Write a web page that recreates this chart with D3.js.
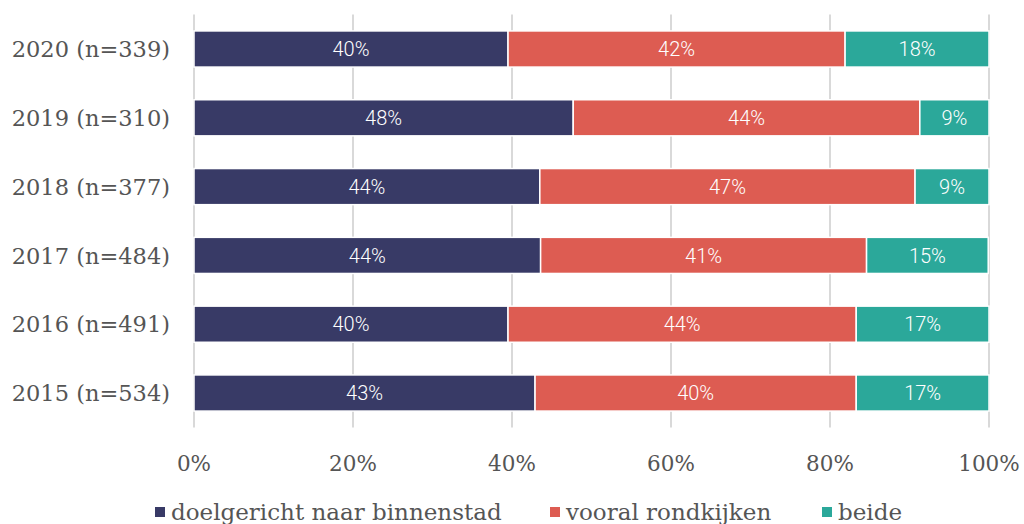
<!DOCTYPE html>
<html>
<head>
<meta charset="utf-8">
<script src="https://cdn.jsdelivr.net/npm/d3@7"></script>
<style>
  body { margin: 0; background: #fff; }
  svg text { font-family: "DejaVu Serif", serif; }
</style>
</head>
<body>
<div id="chart"></div>
<script>
// data
var years = ["2020 (n=339)", "2019 (n=310)", "2018 (n=377)", "2017 (n=484)", "2016 (n=491)", "2015 (n=534)"];
var doelgericht = [39.5, 47.7, 43.5, 43.6, 39.5, 42.9];
var rondkijken = [42.4, 43.6, 47.2, 41.0, 43.8, 40.4];
var beide = [18.1, 8.7, 9.3, 15.3, 16.7, 16.7];
var labelsDoel = ["40%", "48%", "44%", "44%", "40%", "43%"];
var labelsRond = ["42%", "44%", "47%", "41%", "44%", "40%"];
var labelsBeide = ["18%", "9%", "9%", "15%", "17%", "17%"];
var seriesNames = ["doelgericht naar binnenstad", "vooral rondkijken", "beide"];
var colors = ["#383a66", "#dd5c52", "#2ba89a"];
var xTicks = [0, 20, 40, 60, 80, 100];

var svgWidth = 1024, svgHeight = 524;
var margin = {left: 194, right: 35, top: 14.6, bottom: 96.6};

var svg = d3.select("#chart").append("svg")
    .attr("width", svgWidth)
    .attr("height", svgHeight);

var x = d3.scaleLinear().domain([0, 100]).range([margin.left, svgWidth - margin.right]);
var y = d3.scaleBand().domain(years)
    .range([margin.top, svgHeight - margin.bottom])
    .paddingInner(0.475).paddingOuter(0.2375);

// build table for stacking
var table = years.map(function(yr, i) {
    return {year: yr, a: doelgericht[i], b: rondkijken[i], c: beide[i],
        la: labelsDoel[i], lb: labelsRond[i], lc: labelsBeide[i]};
});
var keys = ["a", "b", "c"];
var labelKeys = {a: "la", b: "lb", c: "lc"};
var stacked = d3.stack().keys(keys)(table);

// gridlines
svg.append("g").selectAll("line")
    .data(xTicks)
    .enter().append("line")
    .attr("x1", d => x(d)).attr("x2", d => x(d))
    .attr("y1", margin.top).attr("y2", svgHeight - margin.bottom)
    .attr("stroke", "#d9d9d9")
    .attr("stroke-width", 2);

// bars
var layers = svg.append("g").selectAll("g")
    .data(stacked)
    .enter().append("g")
    .attr("fill", (d, i) => colors[i]);

layers.selectAll("rect")
    .data(d => d.map(p => ({p: p, key: d.key})))
    .enter().append("rect")
    .attr("x", d => x(d.p[0]))
    .attr("width", d => x(d.p[1]) - x(d.p[0]))
    .attr("y", d => y(d.p.data.year))
    .attr("height", y.bandwidth())
    .attr("stroke", "#fff")
    .attr("stroke-width", 1.5);

layers.selectAll("text")
    .data(d => d.map(p => ({p: p, key: d.key})))
    .enter().append("text")
    .attr("x", d => (x(d.p[0]) + x(d.p[1])) / 2)
    .attr("y", d => y(d.p.data.year) + y.bandwidth() / 2)
    .attr("dy", "0.36em")
    .attr("text-anchor", "middle")
    .style("font-family", "Roboto, sans-serif")
    .style("font-weight", 300)
    .style("font-size", "20px")
    .attr("fill", "#fff")
    .text(d => d.p.data[labelKeys[d.key]]);

// y labels
svg.append("g").selectAll("text")
    .data(years)
    .enter().append("text")
    .attr("x", 170)
    .attr("y", d => y(d) + y.bandwidth() / 2)
    .attr("dy", "0.36em")
    .attr("text-anchor", "end")
    .attr("fill", "#555")
    .style("font-size", "22.5px")
    .text(d => d);

// x tick labels
svg.append("g").selectAll("text")
    .data(xTicks)
    .enter().append("text")
    .attr("x", d => x(d))
    .attr("y", 463)
    .attr("dy", "0.36em")
    .attr("text-anchor", "middle")
    .attr("fill", "#555")
    .style("font-size", "21.5px")
    .text(d => d + "%");

// legend
var legendX = [155, 550, 822];
var legend = svg.append("g").selectAll("g")
    .data(seriesNames)
    .enter().append("g")
    .attr("transform", (d, i) => `translate(${legendX[i]}, 512)`);

legend.append("rect")
    .attr("x", 0).attr("y", -5)
    .attr("width", 10).attr("height", 10)
    .attr("fill", (d, i) => colors[i]);

legend.append("text")
    .attr("x", 16)
    .attr("dy", "0.36em")
    .attr("fill", "#555")
    .style("font-size", "23px")
    .text(d => d);
</script>
</body>
</html>
